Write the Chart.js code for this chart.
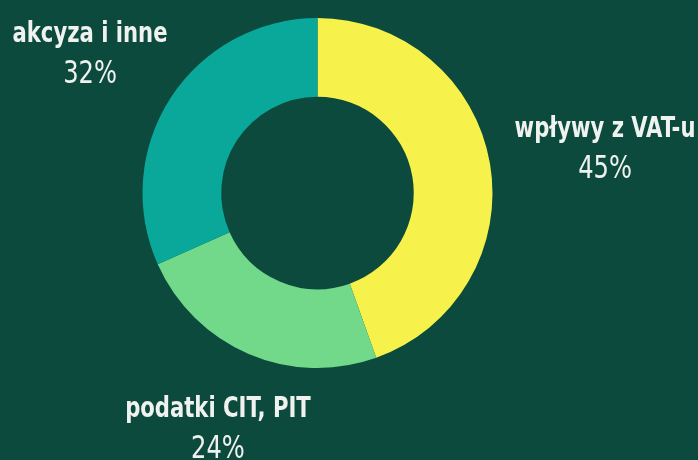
<!DOCTYPE html>
<html lang="pl">
<head>
    <meta charset="UTF-8">
    <title>Struktura dochodów</title>
    <script src="https://cdn.jsdelivr.net/npm/chart.js"></script>
    <style>
        body {
            margin: 0;
            padding: 0;
            background-color: #0b4a3d;
        }
        .chart-box {
            width: 698px;
            height: 460px;
            position: relative;
        }
    </style>
</head>
<body>
    <div class="chart-box">
        <canvas id="taxChart"></canvas>
    </div>

    <script>
        // data
        const categories = ["wpływy z VAT-u", "podatki CIT, PIT", "akcyza i inne"];
        const shares = [45, 24, 32];
        const sliceColors = ["#f6f24b", "#72d98a", "#0aa89b"];

        // where each label sits, in units of the doughnut radius from its centre
        const labelSpots = [
            { dx: 1.643, dy: -0.32 },
            { dx: -0.569, dy: 1.28 },
            { dx: -1.30, dy: -0.863 }
        ];

        const FONT = "'DejaVu Sans Condensed', 'Liberation Sans Narrow', sans-serif";

        // the original uses a narrow display face, so squeeze the text sideways
        function squeezedText(ctx, text, x, y, sx) {
            ctx.save();
            ctx.translate(x, y);
            ctx.scale(sx, 1);
            ctx.fillText(text, 0, 0);
            ctx.restore();
        }

        const outsideLabels = {
            id: "outsideLabels",
            afterDraw(chart) {
                const arc = chart.getDatasetMeta(0).data[0];
                const cx = arc.x, cy = arc.y, r = arc.outerRadius;
                const ctx = chart.ctx;
                ctx.save();
                ctx.fillStyle = "#f0f2f0";
                ctx.textAlign = "center";
                ctx.textBaseline = "alphabetic";
                categories.forEach((name, i) => {
                    const x = cx + labelSpots[i].dx * r;
                    const y = cy + labelSpots[i].dy * r;
                    ctx.font = "bold 28px " + FONT;
                    squeezedText(ctx, name, x, y, 0.84);
                    ctx.font = "32px " + FONT;
                    squeezedText(ctx, shares[i] + "%", x, y + 41, 0.84);
                });
                ctx.restore();
            }
        };

        new Chart(document.getElementById("taxChart"), {
            type: "doughnut",
            data: {
                labels: categories,
                datasets: [{
                    data: shares,
                    backgroundColor: sliceColors,
                    borderWidth: 0,
                    hoverOffset: 0
                }]
            },
            options: {
                responsive: true,
                maintainAspectRatio: false,
                animation: false,
                cutout: "55%",
                layout: { padding: { top: 18, bottom: 92, left: 0, right: 63 } },
                plugins: {
                    legend: { display: false },
                    tooltip: { enabled: false }
                }
            },
            plugins: [outsideLabels]
        });
    </script>
</body>
</html>
